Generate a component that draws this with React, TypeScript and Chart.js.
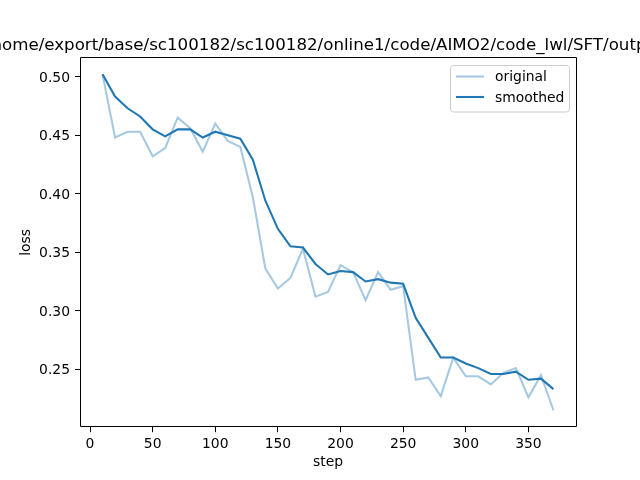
import React, { useEffect, useRef } from "react";
import { Chart, registerables } from "chart.js";

Chart.register(...registerables);

const steps = [10, 20, 30, 40, 50, 60, 70, 80, 90, 100, 110, 120, 130, 140, 150, 160, 170, 180, 190, 200, 210, 220, 230, 240, 250, 260, 270, 280, 290, 300, 310, 320, 330, 340, 350, 360, 370];
const original = [0.502, 0.448, 0.453, 0.453, 0.432, 0.439, 0.465, 0.456, 0.436, 0.460, 0.445, 0.440, 0.397, 0.336, 0.319, 0.328, 0.353, 0.312, 0.316, 0.339, 0.333, 0.309, 0.333, 0.318, 0.321, 0.241, 0.243, 0.227, 0.260, 0.244, 0.244, 0.237, 0.247, 0.251, 0.226, 0.245, 0.215];
const smoothed = [0.502, 0.483, 0.473, 0.466, 0.455, 0.449, 0.455, 0.455, 0.448, 0.453, 0.450, 0.447, 0.429, 0.394, 0.370, 0.355, 0.354, 0.340, 0.331, 0.334, 0.333, 0.325, 0.327, 0.324, 0.323, 0.294, 0.277, 0.260, 0.260, 0.255, 0.251, 0.246, 0.246, 0.248, 0.241, 0.242, 0.233];
const xTicks = [0, 50, 100, 150, 200, 250, 300, 350];
const yTicks = [0.25, 0.3, 0.35, 0.4, 0.45, 0.5];
const titleText = "/home/export/base/sc100182/sc100182/online1/code/AIMO2/code_lwl/SFT/output";
const seriesLabels = ["original", "smoothed"];
const xLabel = "step";
const yLabel = "loss";

const FONT = '"DejaVu Sans", sans-serif';
const COLOR_ORIG = "rgba(31,119,180,0.4)";
const COLOR_SMOOTH = "#1f77b4";

const framePlugin = {
  id: "frame",
  afterDraw(chart: any) {
    const ctx = chart.ctx;
    const a = chart.chartArea;
    ctx.save();
    // spines
    ctx.strokeStyle = "#000";
    ctx.lineWidth = 1;
    const l = Math.round(a.left) + 0.5;
    const t = Math.round(a.top) - 0.5;
    const r = Math.round(a.right) + 0.5;
    const b = Math.round(a.bottom) - 0.5;
    ctx.beginPath();
    ctx.rect(l, t, r - l, b - t);
    ctx.stroke();

    // title
    ctx.font = `16.67px ${FONT}`;
    ctx.fillStyle = "#000";
    ctx.textAlign = "left";
    ctx.textBaseline = "alphabetic";
    const pre = ctx.measureText("/h").width;
    ctx.fillText(titleText, 2 - pre, 49.5);

    // legend
    const bx = 450.5, by = 65.5, bw = 119, bh = 46.5, rad = 3;
    ctx.beginPath();
    ctx.moveTo(bx + rad, by);
    ctx.lineTo(bx + bw - rad, by);
    ctx.arcTo(bx + bw, by, bx + bw, by + rad, rad);
    ctx.lineTo(bx + bw, by + bh - rad);
    ctx.arcTo(bx + bw, by + bh, bx + bw - rad, by + bh, rad);
    ctx.lineTo(bx + rad, by + bh);
    ctx.arcTo(bx, by + bh, bx, by + bh - rad, rad);
    ctx.lineTo(bx, by + rad);
    ctx.arcTo(bx, by, bx + rad, by, rad);
    ctx.closePath();
    ctx.fillStyle = "rgba(255,255,255,0.8)";
    ctx.fill();
    ctx.strokeStyle = "#cccccc";
    ctx.stroke();

    const colors = [COLOR_ORIG, COLOR_SMOOTH];
    const rows = [76.5, 97];
    ctx.font = `13.9px ${FONT}`;
    ctx.textBaseline = "middle";
    seriesLabels.forEach((lab, i) => {
      ctx.strokeStyle = colors[i];
      ctx.lineWidth = 2.08;
      ctx.beginPath();
      ctx.moveTo(456, rows[i]);
      ctx.lineTo(484, rows[i]);
      ctx.stroke();
      ctx.fillStyle = "#000";
      ctx.fillText(lab, 495, rows[i] + 1);
    });
    ctx.restore();
  },
};

export default function App() {
  const ref = useRef<HTMLCanvasElement | null>(null);
  useEffect(() => {
    if (!ref.current) return;
    const chart = new Chart(ref.current, {
      type: "line",
      data: {
        datasets: [
          {
            label: seriesLabels[0],
            data: steps.map((s, i) => ({ x: s, y: original[i] })),
            borderColor: COLOR_ORIG,
            backgroundColor: COLOR_ORIG,
            borderWidth: 2.08,
            pointRadius: 0,
            tension: 0,
            order: 1,
          },
          {
            label: seriesLabels[1],
            data: steps.map((s, i) => ({ x: s, y: smoothed[i] })),
            borderColor: COLOR_SMOOTH,
            backgroundColor: COLOR_SMOOTH,
            borderWidth: 2.08,
            pointRadius: 0,
            tension: 0,
            order: 0,
          },
        ],
      },
      options: {
        animation: false,
        responsive: false,
        devicePixelRatio: 1,
        layout: { padding: { left: 0, top: 57.6, right: 64, bottom: 0 } },
        plugins: {
          legend: { display: false },
          title: { display: false },
          tooltip: { enabled: false },
        },
        scales: {
          x: {
            type: "linear",
            min: -8,
            max: 388,
            afterBuildTicks: (scale: any) => {
              scale.ticks = xTicks.map((v) => ({ value: v }));
            },
            afterFit: (scale: any) => {
              scale.height = 52.8;
            },
            grid: {
              drawOnChartArea: false,
              drawTicks: true,
              tickLength: 5,
              tickColor: "#000",
              tickWidth: 1,
            },
            border: { display: false },
            ticks: {
              color: "#000",
              font: { family: FONT, size: 13.9 },
              padding: 4,
              maxRotation: 0,
              autoSkip: false,
              callback: (v: any) => String(v),
            },
            title: {
              display: true,
              text: xLabel,
              color: "#000",
              font: { family: FONT, size: 13.9, lineHeight: 1.2 },
              padding: { top: 0, bottom: 9.5 },
            },
          },
          y: {
            type: "linear",
            min: 0.2005,
            max: 0.5163,
            afterBuildTicks: (scale: any) => {
              scale.ticks = yTicks.map((v) => ({ value: v }));
            },
            afterFit: (scale: any) => {
              scale.width = 80;
            },
            grid: {
              drawOnChartArea: false,
              drawTicks: true,
              tickLength: 5,
              tickColor: "#000",
              tickWidth: 1,
            },
            border: { display: false },
            ticks: {
              color: "#000",
              font: { family: FONT, size: 13.9 },
              padding: 5,
              labelOffset: 1.5,
              autoSkip: false,
              callback: (v: any) => Number(v).toFixed(2),
            },
            title: {
              display: true,
              text: yLabel,
              color: "#000",
              font: { family: FONT, size: 13.9, lineHeight: 1.2 },
              padding: { top: 18, bottom: 0 },
            },
          },
        },
      },
      plugins: [framePlugin],
    });
    return () => chart.destroy();
  }, []);
  return (
    <div style={{ position: "fixed", left: 0, top: 0, width: 640, height: 480, background: "#fff" }}>
      <canvas ref={ref} width={640} height={480} style={{ display: "block" }} />
    </div>
  );
}
